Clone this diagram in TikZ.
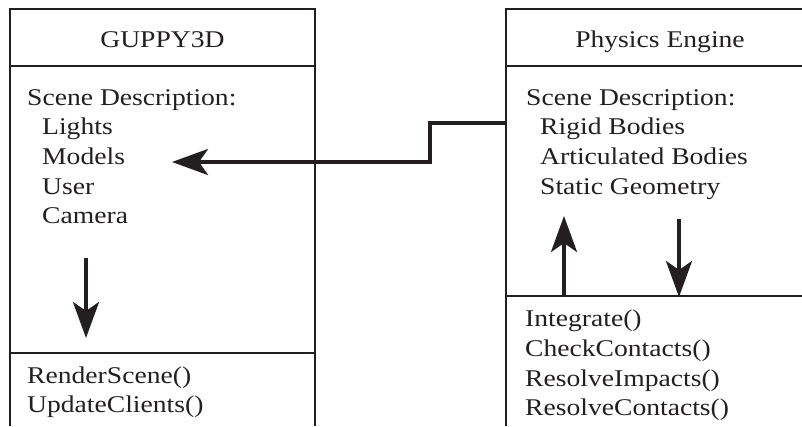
\documentclass[tikz,border=0pt]{standalone}
\usepackage{fontspec}
\setmainfont{Liberation Serif}[FakeStretch=1.15]
\usetikzlibrary{arrows.meta}
\definecolor{ink}{RGB}{35,31,32}
\begin{document}
\begin{tikzpicture}[x=1pt,y=-1pt,color=ink,
  frame/.style={line width=1.8pt},
  sep/.style={line width=1.5pt},
  txt/.style={anchor=base west,inner sep=0pt,font=\fontsize{24}{29}\selectfont},
  ttl/.style={anchor=base,inner sep=0pt,font=\fontsize{24}{29}\selectfont},
  flow/.style={line width=4pt,-{Stealth[length=36pt,width=26pt,inset=9pt]}}]
\useasboundingbox (0,0) rectangle (802,426);
% GUPPY3D class box (open at the bottom)
\draw[frame] (10,426) -- (10,9) -- (315,9) -- (315,426);
\draw[sep] (10,66) -- (315,66);
\draw[sep] (10,353) -- (315,353);
% Physics Engine class box (open at the bottom and right)
\draw[frame] (506,426) -- (506,9) -- (802,9);
\draw[sep] (506,66) -- (802,66);
\draw[sep] (506,296) -- (802,296);
% titles
\node[ttl] (gtitle) at (162.5,47) {GUPPY3D};
\node[ttl] (ptitle) at (660,47) {Physics Engine};
% GUPPY3D attributes
\node[txt] (gscene) at (27,105) {Scene Description:};
\node[txt] (glights) at (42,134.7) {Lights};
\node[txt] (gmodels) at (42,164.4) {Models};
\node[txt] (guser) at (42,194.1) {User};
\node[txt] (gcamera) at (42,223.8) {Camera};
% GUPPY3D operations
\node[txt] (grender) at (27,383) {RenderScene()};
\node[txt] (gupdate) at (27,412) {UpdateClients()};
% Physics Engine attributes
\node[txt] (pscene) at (526,105) {Scene Description:};
\node[txt] (prigid) at (540,134.7) {Rigid Bodies};
\node[txt] (partic) at (540,164.4) {Articulated Bodies};
\node[txt] (pstatic) at (540,194.1) {Static Geometry};
% Physics Engine operations
\node[txt] (pint) at (525,326) {Integrate()};
\node[txt] (pcheck) at (525,356) {CheckContacts()};
\node[txt] (pimp) at (525,386) {ResolveImpacts()};
\node[txt] (pcont) at (525,415) {ResolveContacts()};
% arrow anchor points
\coordinate (gdownA) at (86,258);
\coordinate (gdownB) at (86,338);
\coordinate (pupA) at (564,296);
\coordinate (pupB) at (564,216);
\coordinate (pdownA) at (679,219);
\coordinate (pdownB) at (679,297);
\coordinate (linkA) at (507,123);
\coordinate (linkB) at (172,162);
% flows
\draw[flow] (gdownA) -- (gdownB);
\draw[flow] (pupA) -- (pupB);
\draw[flow] (pdownA) -- (pdownB);
\draw[flow] (linkA) -- (430,123) |- (linkB);
\end{tikzpicture}
\end{document}
